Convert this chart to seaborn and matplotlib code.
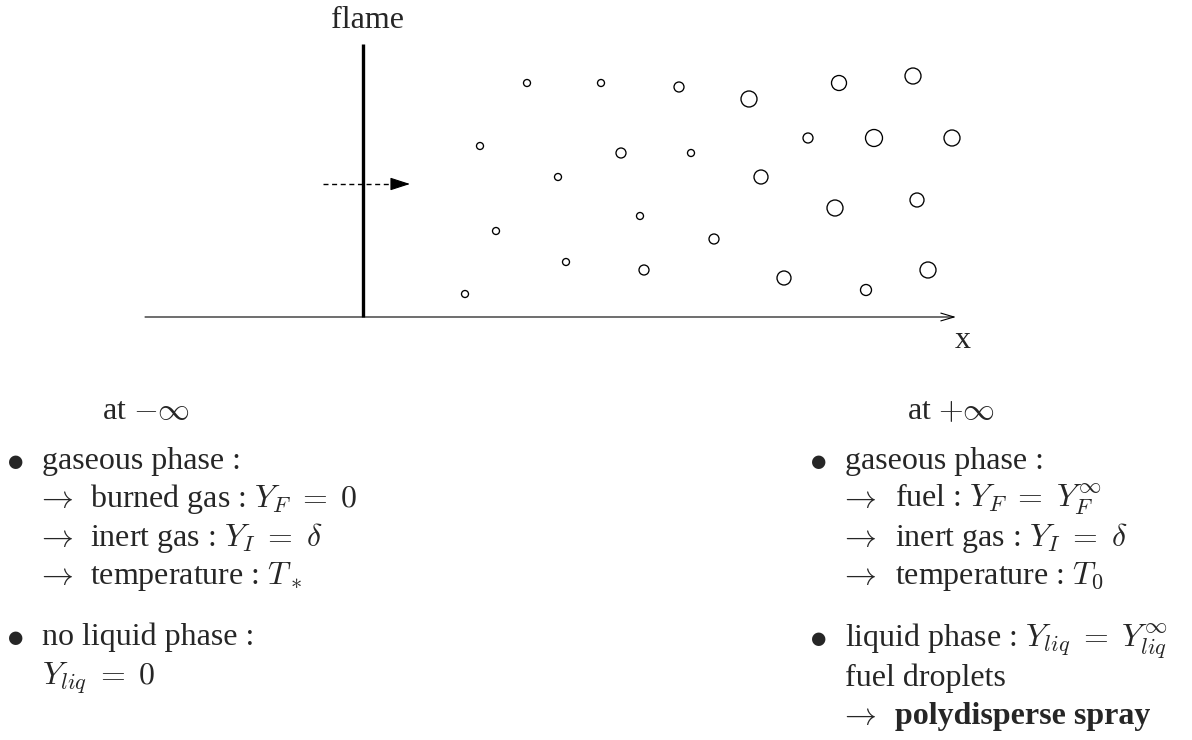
import matplotlib
matplotlib.use("Agg")
import matplotlib.pyplot as plt
import seaborn as sns
import pandas as pd

# ---- data: droplets (pixel-space coordinates of the sketch, diameter in px)
drop_x = [527, 601, 679, 749, 839, 913,
          480, 621, 691, 808, 874, 952,
          558, 761, 835, 917,
          640, 496, 714,
          566, 644, 784, 866, 928,
          465]
drop_y = [83, 83, 87, 99, 83, 76,
          146, 153, 153, 138, 138, 138,
          177, 177, 208, 200,
          216, 231, 239,
          262, 270, 278, 290, 270,
          294]
drop_d = [8, 8, 11, 17, 16, 17,
          8, 11, 8, 11, 18, 17,
          8, 15, 17, 15,
          8, 8, 11,
          8, 11, 15, 12, 17,
          8]

left_title = r"at $-\infty$"
right_title = r"at $+\infty$"
left_lines = [
    ("bullet", "gaseous phase :"),
    ("arrow", r"burned gas : $Y_F\;=\;0$"),
    ("arrow", r"inert gas : $Y_I\;=\;\delta$"),
    ("arrow", r"temperature : $T_*$"),
    ("bullet", "no liquid phase :"),
    ("plain", r"$Y_{liq}\;=\;0$"),
]
right_lines = [
    ("bullet", "gaseous phase :"),
    ("arrow", r"fuel : $Y_F\;=\;Y_F^{\infty}$"),
    ("arrow", r"inert gas : $Y_I\;=\;\delta$"),
    ("arrow", r"temperature : $T_0$"),
    ("bullet", r"liquid phase : $Y_{liq}\;=\;Y_{liq}^{\infty}$"),
    ("plain", "fuel droplets"),
    ("arrowbold", "polydisperse spray"),
]

sns.set_theme(style="white")
plt.rcParams["font.family"] = ["Liberation Serif", "DejaVu Serif"]
plt.rcParams["mathtext.fontset"] = "cm"

W, H = 1192, 740
fig = plt.figure(figsize=(W / 100, H / 100), dpi=100)
ax = fig.add_axes([0, 0, 1, 1])
ax.set_xlim(0, W)
ax.set_ylim(H, 0)
ax.axis("off")

# droplets
df = pd.DataFrame({"x": drop_x, "y": drop_y, "d": drop_d})
size_map = {d: ((d - 1) * 0.72) ** 2 for d in sorted(set(drop_d))}
sns.scatterplot(data=df, x="x", y="y", size="d", sizes=size_map,
                color="white", edgecolor="black", linewidth=0.95,
                legend=False, ax=ax, zorder=3)
ax.set_xlim(0, W)
ax.set_ylim(H, 0)
ax.set_xlabel("")
ax.set_ylabel("")

# x axis with open arrow
ax.annotate("", xy=(956, 317), xytext=(145, 317),
            arrowprops=dict(arrowstyle="->,head_length=0.95,head_width=0.28",
                            mutation_scale=10, lw=0.8, color="black",
                            shrinkA=0, shrinkB=0))
ax.text(963, 348, "x", ha="center", va="baseline", fontsize=23)

# flame
ax.plot([363, 363], [44, 317], color="black", lw=2.4, solid_capstyle="butt")
ax.text(367, 28, "flame", ha="center", va="baseline", fontsize=23)

# dashed arrow
ax.plot([323, 396], [184, 184], color="black", lw=1.0, dashes=(3.6, 2.6))
ax.annotate("", xy=(410, 184), xytext=(393, 184),
            arrowprops=dict(arrowstyle="-|>,head_length=0.62,head_width=0.2",
                            mutation_scale=20, lw=0.8, color="black",
                            shrinkA=0, shrinkB=0))

FS = 23
ax.text(102, 419, left_title, fontsize=FS, va="baseline")
ax.text(907, 419, right_title, fontsize=FS, va="baseline")


def block(lines, xb, xt, xa, ys):
    for (kind, txt), y in zip(lines, ys):
        if kind == "bullet":
            ax.text(xb, y, r"$\bullet$", fontsize=FS + 2, va="baseline", ha="center")
            ax.text(xt, y, txt, fontsize=FS, va="baseline")
        elif kind == "arrow":
            ax.text(xt - 6, y, r"$\rightarrow$", fontsize=FS, va="baseline")
            ax.text(xa, y, txt, fontsize=FS, va="baseline")
        elif kind == "arrowbold":
            ax.text(xt - 6, y, r"$\rightarrow$", fontsize=FS, va="baseline")
            ax.text(xa, y, txt, fontsize=FS, va="baseline", fontweight="bold")
        else:
            ax.text(xt, y, txt, fontsize=FS, va="baseline")


block(left_lines, 15, 42, 90, [469, 507, 546, 584, 645, 685])
block(right_lines, 818, 845, 895, [469, 507, 546, 584, 646, 686, 724])

fig.savefig("out.png", dpi=100)
